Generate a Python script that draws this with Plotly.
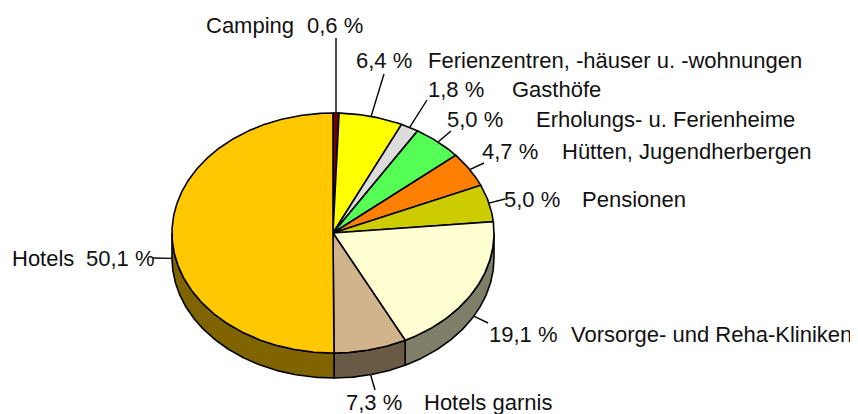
import numpy as np
import plotly.graph_objects as go

# ---------------- data ----------------
categories = ["Camping", "Ferienzentren, -häuser u. -wohnungen", "Gasthöfe",
              "Erholungs- u. Ferienheime", "Hütten, Jugendherbergen", "Pensionen",
              "Vorsorge- und Reha-Kliniken", "Hotels garnis", "Hotels"]
shares = [0.6, 6.4, 1.8, 5.0, 4.7, 5.0, 19.1, 7.3, 50.1]

# ---------------- styles / layout ----------------
colors = ["#6e0000", "#ffff00", "#dcdcdc", "#55ff55", "#ff8000",
          "#cccc00", "#ffffd2", "#d2b48c", "#ffc800"]
W, H = 858, 414
OFF = 8      # page body margin
PAD = 2      # annotation inner padding
CX, CY, RX, RY, DEPTH = 333, 233, 161, 120, 25
FONT = dict(family="Liberation Sans, Arial, sans-serif", size=22, color="#111111")

# label placement: (pct_x, name_x, row_y, leader_end_x, leader_end_y)
label_pos = [
    (308, 207, 25, 336, 38),
    (357, 429, 60, 384, 74),
    (429, 513, 89, 427, 100),
    (448, 537, 119, 451, 131),
    (483, 563, 151, 484, 163),
    (505, 583, 199, 505, 199),
    (490, 572, 334, 488, 323),
    (347, 425, 402, 375, 390),
    (87, 13, 258, 153, 258),
]


def pt(theta_deg, dy=0.0):
    t = np.radians(theta_deg)
    return CX + RX * np.sin(t), CY - RY * np.cos(t) + dy


def darker(hexcol, f=0.5):
    h = hexcol.lstrip("#")
    r, g, b = (int(h[i:i + 2], 16) for i in (0, 2, 4))
    return "rgb(%d,%d,%d)" % (r * f, g * f, b * f)


total = sum(shares)
cum = np.concatenate([[0], np.cumsum(shares)]) / total * 360.0

fig = go.Figure()
LINE = dict(color="#000000", width=1.6)

# side walls (front half: 90..270 degrees)
for i, col in enumerate(colors):
    a, b = max(cum[i], 90.0), min(cum[i + 1], 270.0)
    if b <= a:
        continue
    th = np.linspace(a, b, max(int((b - a) * 2), 2))
    xt, yt = pt(th)
    xb, yb = pt(th[::-1], DEPTH)
    xs = np.concatenate([xt, xb, xt[:1]])
    ys = np.concatenate([yt, yb, yt[:1]])
    fig.add_trace(go.Scatter(x=xs, y=ys, mode="lines", fill="toself",
                             fillcolor=darker(col), line=LINE,
                             hoverinfo="skip", showlegend=False))

# top face wedges
for i, col in enumerate(colors):
    a, b = cum[i], cum[i + 1]
    th = np.linspace(a, b, max(int((b - a) * 2), 2))
    xa, ya = pt(th)
    xs = np.concatenate([[CX], xa, [CX]])
    ys = np.concatenate([[CY], ya, [CY]])
    fig.add_trace(go.Scatter(x=xs, y=ys, mode="lines", fill="toself",
                             fillcolor=col, line=LINE,
                             hoverinfo="skip", showlegend=False,
                             name=categories[i]))

# leader lines and labels
for i, (cat, v) in enumerate(zip(categories, shares)):
    mid = (cum[i] + cum[i + 1]) / 2.0
    front = 90.0 < mid < 270.0
    sx, sy = pt(mid, DEPTH if front else 0.0)
    px, nx, ry, ex, ey = label_pos[i]
    fig.add_trace(go.Scatter(x=[sx, ex], y=[sy, ey], mode="lines",
                             line=dict(color="#000000", width=1.4),
                             hoverinfo="skip", showlegend=False))
    pct = ("%.1f" % v).replace(".", ",") + " %"
    fig.add_annotation(x=px - PAD, y=ry, text=pct, showarrow=False, borderpad=0,
                       xanchor="left", yanchor="middle", font=FONT)
    fig.add_annotation(x=nx - PAD, y=ry, text=cat, showarrow=False, borderpad=0,
                       xanchor="left", yanchor="middle", font=FONT)

fig.update_layout(
    width=W - OFF, height=H - OFF,
    margin=dict(l=0, r=0, t=0, b=0),
    paper_bgcolor="white", plot_bgcolor="white",
    xaxis=dict(range=[OFF, W], visible=False, fixedrange=True),
    yaxis=dict(range=[H, OFF], visible=False, fixedrange=True),
    showlegend=False,
)

fig.write_html("out.html")
